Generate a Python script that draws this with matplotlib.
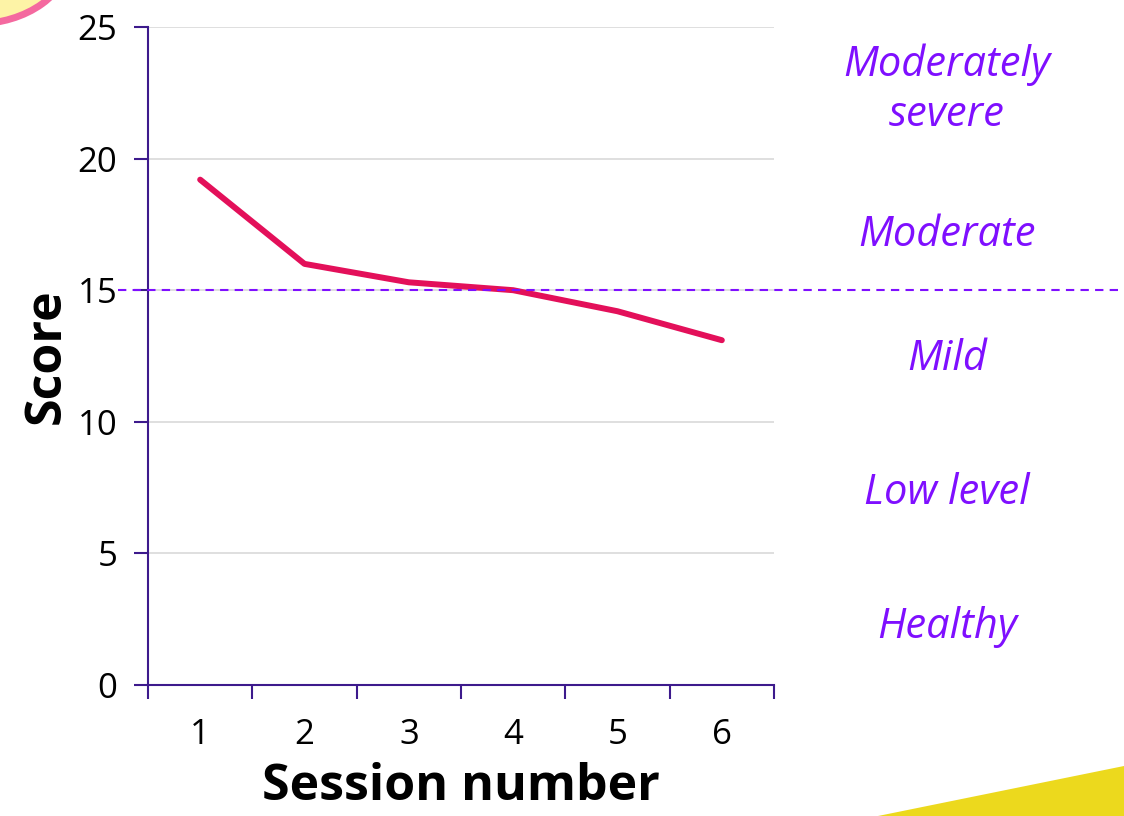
import matplotlib.pyplot as plt
import matplotlib.transforms as mtransforms
from matplotlib.patches import Circle, Polygon

plt.rcParams['font.family'] = ['Open Sans', 'DejaVu Sans']

# Data
sessions = [1, 2, 3, 4, 5, 6]
scores = [19.2, 16.0, 15.3, 15.0, 14.2, 13.1]
threshold = 15
bands = ["Moderately\nsevere", "Moderate", "Mild", "Low level", "Healthy"]
band_y = [22.6, 17.1, 12.4, 7.3, 2.2]
y_ticks = [0, 5, 10, 15, 20, 25]

axis_col = "#3d1a8c"
band_col = "#7f0fff"
line_col = "#e3105a"

fig = plt.figure(figsize=(11.24, 8.16), dpi=100)
ax = fig.add_axes([148 / 1124, 1 - 685 / 816, 626 / 1124, 658 / 816])

# decorations in the corners
fig.patches.append(Circle((-25 / 1124, 1 + 45 / 816), 95 / 1124, transform=fig.transFigure,
                          facecolor="#fdf3a6", edgecolor="#f4699f", lw=5, zorder=0))
fig.patches.append(Polygon([(878 / 1124, 0), (1, 50 / 816), (1, 0)], closed=True,
                           transform=fig.transFigure, facecolor="#ecd91d", edgecolor="none"))

ax.plot(sessions, scores, color=line_col, lw=4.3, solid_capstyle="round",
        solid_joinstyle="round", zorder=3)

ax.set_xlim(0.5, 6.5)
ax.set_ylim(0, 25)

# threshold line running past the axes to the right edge
trans = mtransforms.blended_transform_factory(ax.transAxes, ax.transData)
ax.plot([-0.048, 1.6], [threshold, threshold], transform=trans, color=band_col,
        lw=1.5, ls=(0, (4, 3)), clip_on=False, zorder=4)

for yv in y_ticks[1:]:
    ax.axhline(yv, color="#d9d9d9", lw=1.2, zorder=1)

ax.spines[['top', 'right']].set_visible(False)
for s in ['left', 'bottom']:
    ax.spines[s].set_color(axis_col)
    ax.spines[s].set_linewidth(1.5)

ax.set_yticks(y_ticks)
ax.tick_params(axis='y', length=10, width=1.5, color=axis_col, labelsize=25, pad=12)
ax.set_xticks([x - 0.5 for x in sessions] + [6.5])
ax.set_xticklabels([])
ax.set_xticks(sessions, minor=True)
ax.set_xticklabels([str(s) for s in sessions], minor=True)
ax.tick_params(axis='x', which='major', length=10, width=1.5, color=axis_col)
ax.tick_params(axis='x', which='minor', length=0, labelsize=25, pad=24)

ax.set_xlabel("Session number", fontsize=36, fontweight='bold', labelpad=7)
ax.set_ylabel("Score", fontsize=36, fontweight='bold', labelpad=4)

for lab, yv in zip(bands, band_y):
    ax.text(1.276, yv, lab, transform=trans, ha='center', va='center', color=band_col,
            fontsize=30, style='italic', linespacing=1.25, clip_on=False)

fig.savefig("out.png", dpi=100)
